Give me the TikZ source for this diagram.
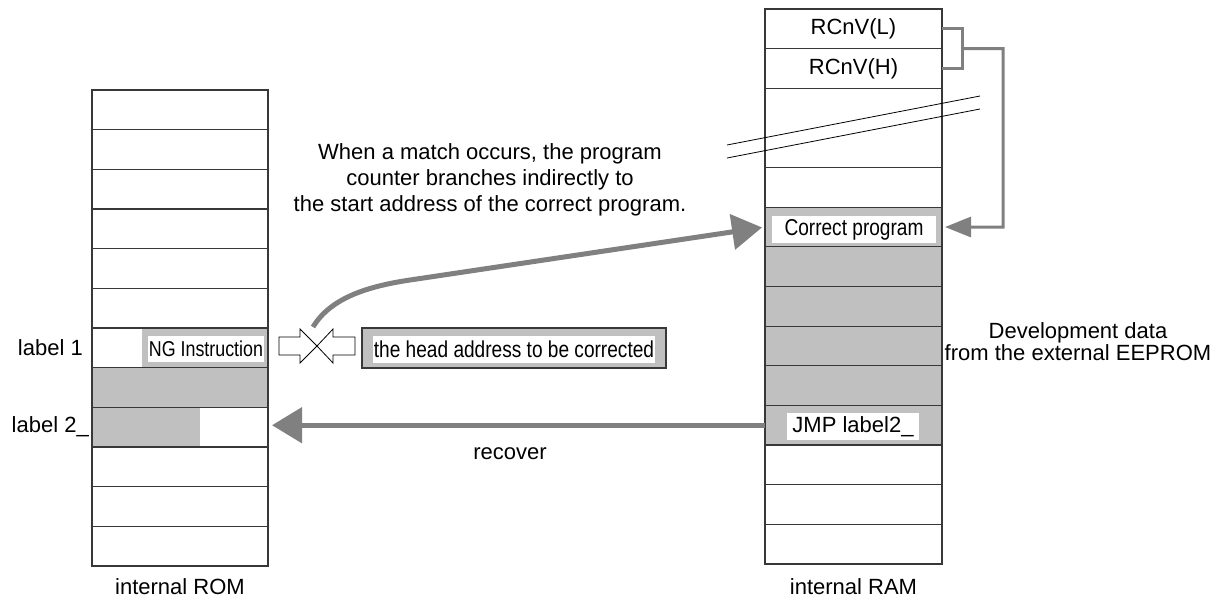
\documentclass[tikz,border=0pt]{standalone}
\usepackage{fontspec}
\setmainfont{Liberation Sans}
\newfontfamily\condfont{Liberation Sans}[FakeStretch=0.83]
\usetikzlibrary{arrows.meta,positioning}
\definecolor{memgray}{HTML}{C0C0C0}
\definecolor{flowgray}{HTML}{808080}
\definecolor{cellline}{HTML}{383838}

\begin{document}
\begin{tikzpicture}[x=1pt,y=-1pt,
  cell/.style={draw=cellline,line width=1.1pt,minimum width=176pt,minimum height=39.67pt,inner sep=0pt,outer sep=0pt},
  lbl/.style={font=\fontsize{22}{26}\selectfont,inner sep=0pt},
  tag/.style={fill=white,inner sep=0pt,font=\condfont\fontsize{23}{26}\selectfont},
  flow/.style={draw=flowgray,line width=5pt,-{Triangle[length=30pt,width=35pt]}},
  link/.style={draw=flowgray,line width=3pt}]
  \useasboundingbox (0,0) rectangle (1224,598);
  % Shading
  \fill[memgray] (92,367.7) rectangle (268,407.3);
  \fill[memgray] (92,407.3) rectangle (200,447);
  \fill[memgray] (142,328) rectangle (268,367.7);
  \fill[memgray] (765,208) rectangle (942,446);
  % internal ROM
  \foreach \i in {1,...,12}
    \node[cell] (rom\i) at (180,{90+39.67*(\i-0.5)}) {};
  \node[tag,font=\condfont\fontsize{21.5}{25}\selectfont,minimum width=116pt,minimum height=26pt] (ng) at (206,349) {NG Instruction};
  \node[lbl,anchor=east] (lab1) at ([xshift=-9pt]rom7.west) {label 1};
  \node[lbl,anchor=east] (lab2) at ([xshift=-3pt]rom9.west) {label 2\_};
  \node[lbl,below=12pt of rom12] (romname) {internal ROM};
  % internal RAM
  \foreach \i in {1,2,5,6,...,14}
    \node[cell,minimum width=177pt,minimum height=39.64pt] (ram\i) at (853.5,{9+39.64*(\i-0.5)}) {};
  \node[cell,minimum width=177pt,minimum height=79.28pt] (ramgap) at (853.5,127.9) {};
  \node[lbl] (rcl) at (ram1) {RCnV(L)};
  \node[lbl] (rch) at (ram2) {RCnV(H)};
  \node[tag,minimum width=164pt,minimum height=27pt] (correct) at (854,229.5) {Correct program};
  \node[lbl,fill=white,minimum width=132pt,minimum height=27pt] (jmp) at (853,426.5) {JMP label2\_};
  \node[lbl,below=14pt of ram14] (ramname) {internal RAM};
  % Break marks
  \draw[line width=0.8pt] (727,145) -- (980,96);
  \draw[line width=0.8pt] (727,158) -- (980,109);
  % Head address register
  \node[draw=cellline,line width=1.1pt,fill=memgray,minimum width=304pt,minimum height=40pt,inner sep=0pt] (headbox) at (514,348) {};
  \node[tag,minimum width=282pt,minimum height=27pt] (head) at (514,349.5) {the head address to be corrected};
  % Comparator
  \coordinate (cross) at (317,346);
  \draw[line width=0.8pt,fill=white] (279,337) -- (300,337) -- (300,329) -- (cross) -- (300,363) -- (300,355) -- (279,355) -- cycle;
  \draw[line width=0.8pt,fill=white] (355,337) -- (333,337) -- (333,329) -- (cross) -- (333,363) -- (333,355) -- (355,355) -- cycle;
  % Branch and recover
  \draw[flow,shorten >=3pt] ([shift={(-4,-19)}]cross) .. controls +(18,-30) and +(-40,6) .. (410,280) -- (ram6.west);
  \draw[flow,shorten >=4pt] (ram11.west) -- (ram11.west -| rom9.east);
  \node[lbl] (rec) at (510,454) {recover};
  % Vector table
  \draw[link] (ram1.east) -- ++(20,0) |- (ram2.east);
  \draw[link,-{Triangle[length=26pt,width=20pt]},shorten >=3pt] ([xshift=20pt]ram1.south east) -- (1003,48.6) |- (ram6.east);
  % Notes
  \node[lbl,align=center,anchor=north] (note) at (490,143) {When a match occurs, the program\\counter branches indirectly to\\the start address of the correct program.};
  \node[lbl,align=center,font=\fontsize{22}{22}\selectfont] (dev) at (1078,342) {Development data\\from the external EEPROM};
\end{tikzpicture}
\end{document}
